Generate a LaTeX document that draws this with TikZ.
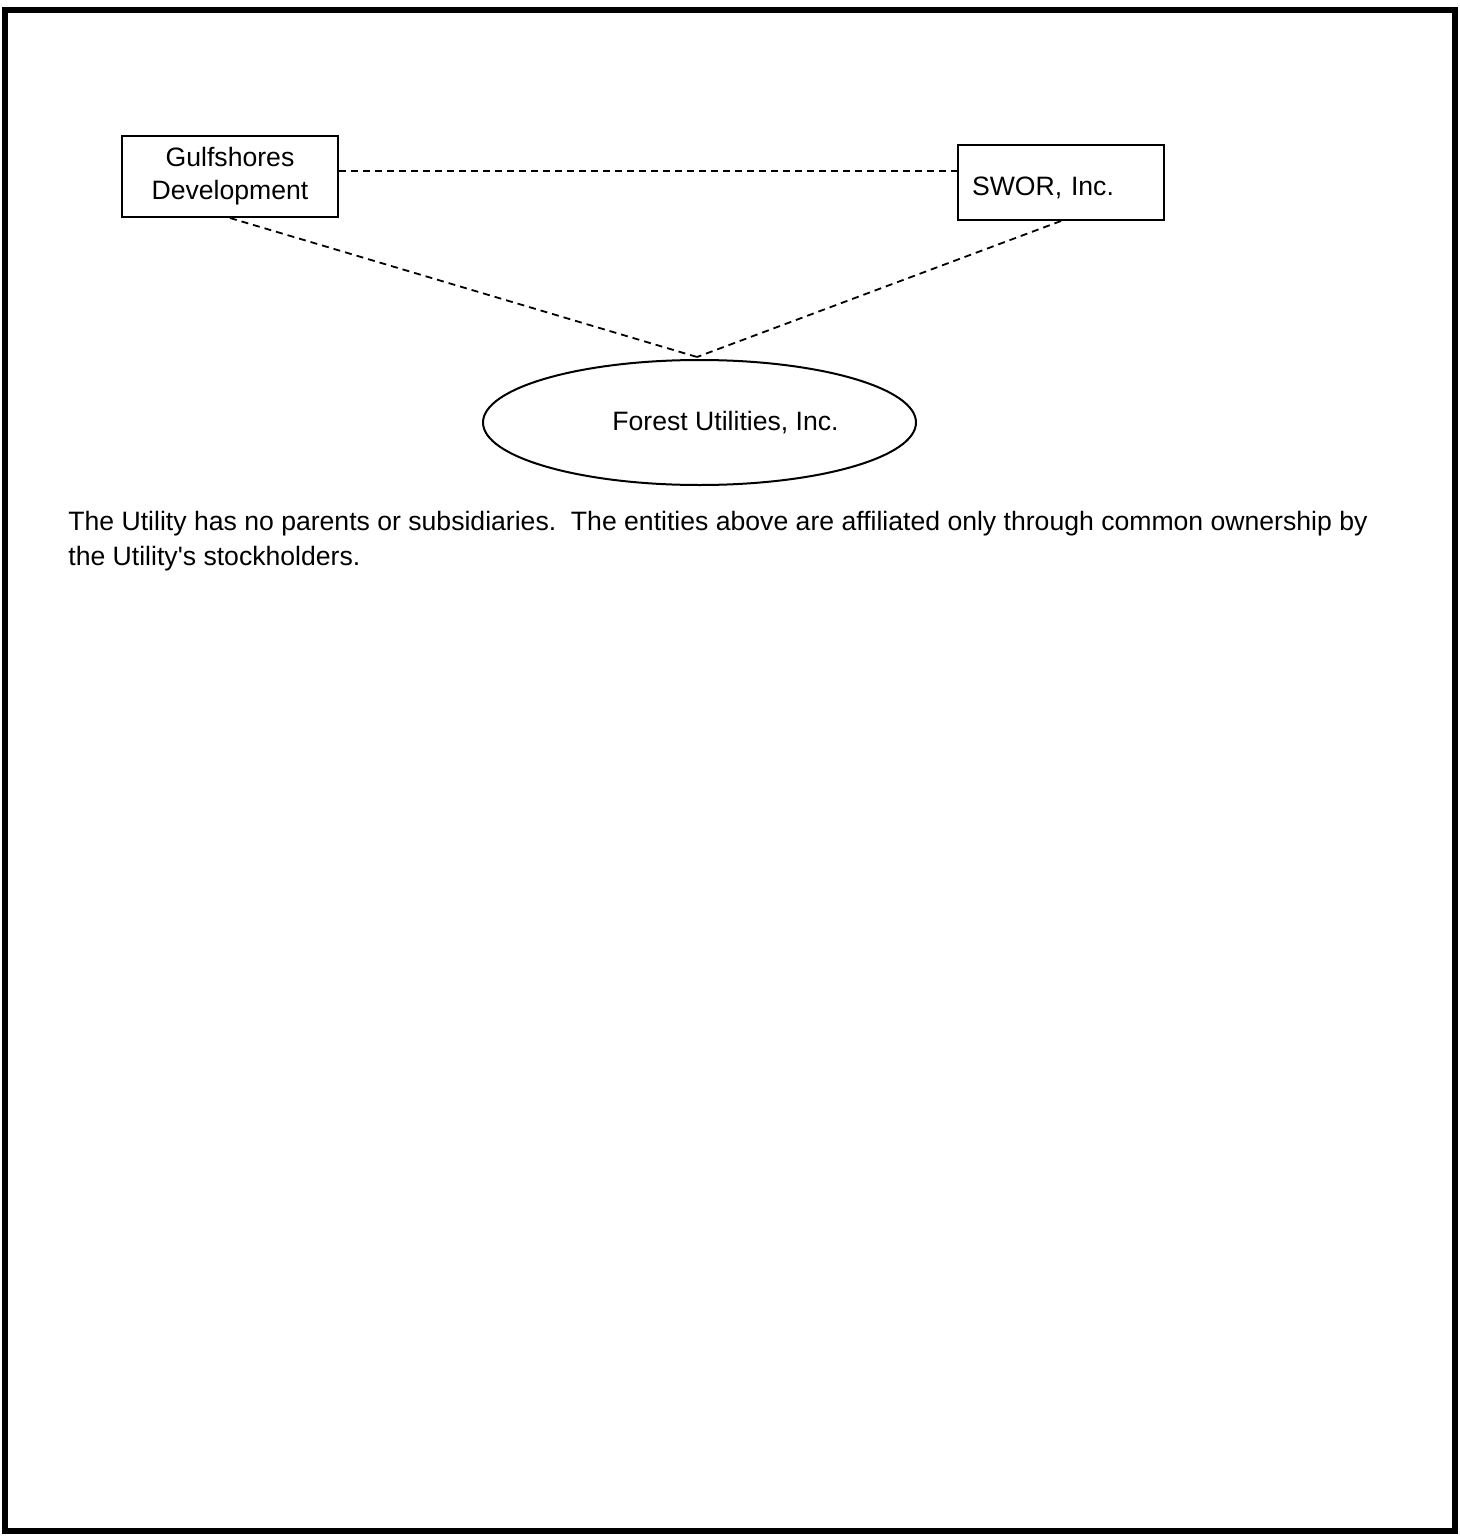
\documentclass[tikz,border=0pt]{standalone}
\usepackage{fontspec}
\setmainfont{Liberation Sans}
\usetikzlibrary{shapes.geometric}

\begin{document}
\begin{tikzpicture}[x=0.5pt,y=-0.5pt,
  firm/.style={draw,line width=1pt,inner sep=0pt,font=\fontsize{13.3}{16.5}\selectfont},
  link/.style={line width=0.9pt,dash pattern=on 3.5pt off 2.5pt}]
\useasboundingbox (0,0) rectangle (1460,1536);
% outer frame
\draw[line width=2.6pt] (5,10) rectangle (1455,1531);

\node[firm,minimum width=108pt,minimum height=40.5pt,align=center] (gulf) at (230,176.5)
  {Gulfshores\\Development};
\node[firm,minimum width=103pt,minimum height=37.5pt,text width=95pt,align=left] (swor) at (1061,182.5)
  {\hspace{3pt}\raisebox{-2.5pt}[\height][\depth]{SWOR, Inc.}};
\node[firm,ellipse,minimum width=216.5pt,minimum height=62.5pt] (forest) at (699.5,422.5)
  {\hspace{26pt}Forest Utilities, Inc.};

\coordinate (top) at (697,357);
\draw[link] (gulf.east |- 0,171) -- (swor.west |- 0,171);
\draw[link] (gulf.south) -- (top);
\draw[link] (swor.south) -- (top);

\node[anchor=north west,align=left,inner sep=0pt,font=\fontsize{13.3}{17.5}\selectfont] (note) at (68,511)
  {The Utility has no parents or subsidiaries.\ \ The entities above are affiliated only through common ownership by\\
   the Utility\textquotesingle s stockholders.};
\end{tikzpicture}
\end{document}
